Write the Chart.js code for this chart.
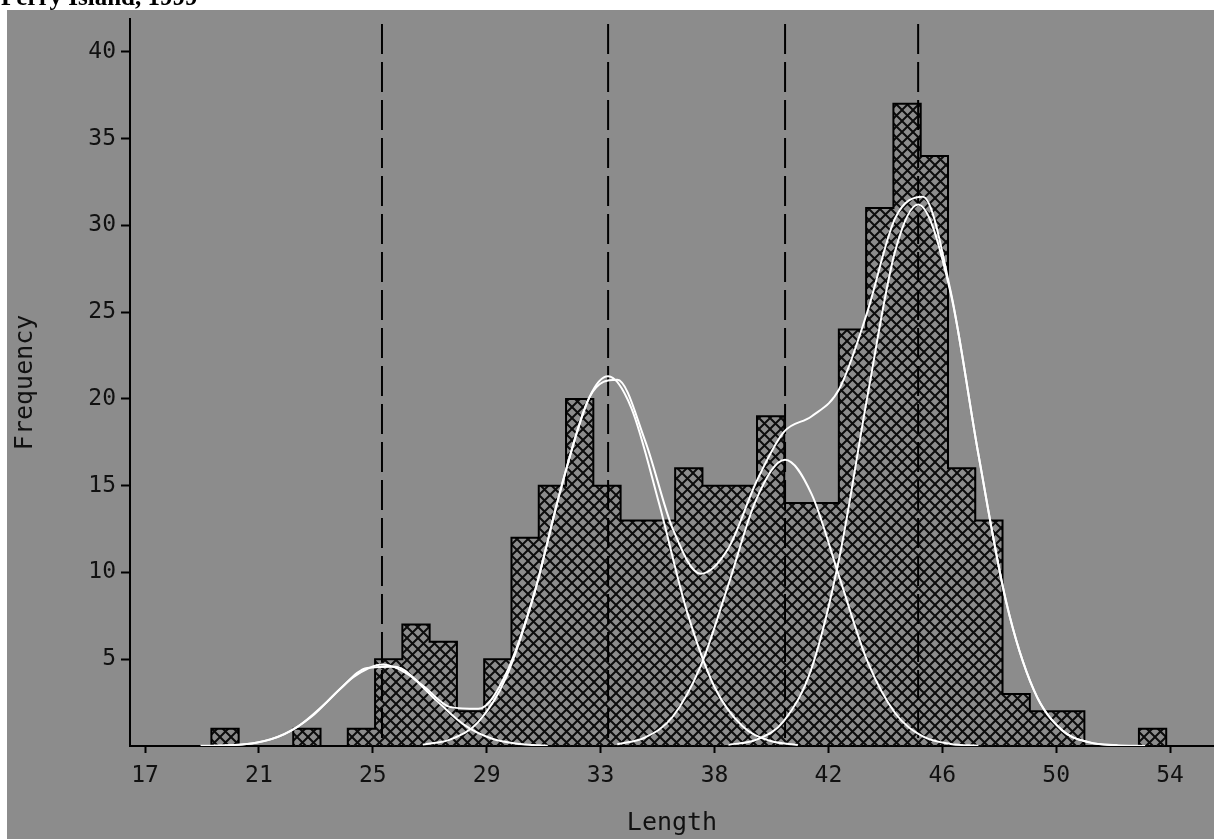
<!DOCTYPE html>
<html>
<head>
<meta charset="utf-8">
<script src="https://cdn.jsdelivr.net/npm/chart.js@4.4.1/dist/chart.umd.min.js"></script>
<style>
  html, body { margin: 0; padding: 0; background: #fff; overflow: hidden; }
  canvas { display: block; }
</style>
</head>
<body>
<canvas id="lf" width="1214" height="839"></canvas>
<script>
// Length-frequency histogram, Ferry Island 1999, with fitted normal components.

const titleText = 'Ferry Island, 1999';

// Length classes: lower bound of the first class and class width
const classStart = 19.39;
const classWidth = 0.982;
// Frequency in each successive length class
const frequency = [1, 0, 0, 1, 0, 1, 5, 7, 6, 2, 5, 12, 15, 20, 15, 13, 13, 16, 15, 15,
                   19, 14, 14, 24, 31, 37, 34, 16, 13, 3, 2, 2, 0, 0, 1];

// Axis ticks
const xTickValues = [17, 21.1, 25.2, 29.3, 33.4, 37.5, 41.6, 45.7, 49.8, 53.9];
const xTickLabels = ['17', '21', '25', '29', '33', '38', '42', '46', '50', '54'];
const yTickValues = [5, 10, 15, 20, 25, 30, 35, 40];

// Mean lengths of the fitted cohorts
const cohortMeans = [25.53, 33.67, 40.04, 44.83];

// Fitted cohort curves
const cohort1X = [19.5, 20.5, 21.5, 22.5, 23.5, 24.5, 25.55, 26.5, 27.5, 28.5, 29.5, 30.5, 31.5];
const cohort1Y = [0.02, 0.09, 0.37, 1.12, 2.46, 3.97, 4.7, 4.1, 2.6, 1.2, 0.42, 0.11, 0.02];

const cohort2X = [27, 28, 29, 30, 31, 32, 33, 33.67, 34.5, 35.5, 36.5, 37.5, 38.5, 39.5, 40.5];
const cohort2Y = [0.08, 0.38, 1.39, 3.96, 8.7, 15.0, 20.1, 21.3, 19.5, 14.0, 7.8, 3.4, 1.15, 0.3, 0.06];

const cohort3X = [34, 35, 36, 37, 38, 39, 40.04, 41, 42, 43, 44, 45, 46, 47];
const cohort3Y = [0.1, 0.49, 1.7, 4.6, 9.3, 14.2, 16.5, 14.5, 9.7, 4.9, 1.9, 0.55, 0.12, 0.02];

const cohort4X = [38, 39, 40, 41, 42, 43, 44, 44.83, 46, 47, 48, 49, 50, 51, 52];
const cohort4Y = [0.07, 0.36, 1.45, 4.5, 10.9, 20.1, 28.5, 31.2, 26.1, 16.8, 8.3, 3.2, 0.92, 0.21, 0.04];

// Combined fit of all cohorts
const totalX = [19, 20, 21, 22, 23, 24, 25, 26, 27, 28, 29, 30, 31, 32, 33, 34, 35, 36, 37,
                38, 39, 40, 41, 42, 43, 44, 45, 46, 47, 48, 49, 50, 51, 52, 53];
const totalY = [0.01, 0.04, 0.19, 0.67, 1.7, 3.25, 4.5, 4.57, 3.48, 2.24, 2.14, 4.18, 8.74, 15.0,
                20.1, 21.1, 17.6, 12.5, 9.93, 11.4, 15.2, 18.1, 19.0, 20.6, 25.0, 30.4, 31.65,
                26.2, 16.8, 8.3, 3.2, 0.92, 0.21, 0.04, 0.0];

// ---------------------------------------------------------------------------

const toPoints = (xs, ys) => xs.map((x, i) => ({ x: x, y: ys[i] }));

// Histogram bars at class mid-points
const barPoints = frequency.map((f, i) => ({ x: classStart + (i + 0.5) * classWidth, y: f }));

// Stepped outline around the histogram: each class value holds up to the next class edge
const outlinePoints = [{ x: classStart, y: 0 }];
frequency.forEach((f, i) => outlinePoints.push({ x: classStart + (i + 1) * classWidth, y: f }));
outlinePoints.push({ x: classStart + frequency.length * classWidth, y: 0 });

// Cross-hatch fill
function crossHatch() {
  const s = 11;
  const tile = document.createElement('canvas');
  tile.width = s; tile.height = s;
  const g = tile.getContext('2d');
  g.strokeStyle = '#0d0d0d';
  g.lineWidth = 2;
  for (let k = -1; k <= 1; k++) {
    g.beginPath();
    g.moveTo(k * s - 1, -1); g.lineTo(k * s + s + 1, s + 1);
    g.moveTo(k * s - 1, s + 1); g.lineTo(k * s + s + 1, -1);
    g.stroke();
  }
  return g.createPattern(tile, 'repeat');
}

// Grey backdrop and the heading strip
const backdrop = {
  id: 'backdrop',
  beforeDraw(chart) {
    const c = chart.ctx, w = chart.width, h = chart.height;
    c.save();
    c.fillStyle = '#ffffff';
    c.fillRect(0, 0, w, h);
    c.fillStyle = '#8c8c8c';
    c.fillRect(7, 10, w - 7, h - 10);
    c.fillStyle = '#000';
    c.font = 'bold 25px "Liberation Serif", serif';
    c.textBaseline = 'alphabetic';
    c.textAlign = 'left';
    c.fillText(titleText, 1, 5);
    c.restore();
  }
};

const curveStyle = {
  type: 'line',
  borderColor: '#ffffff',
  borderWidth: 2,
  pointRadius: 0,
  fill: false,
  cubicInterpolationMode: 'monotone',
  order: 0
};

// Dashed markers at the cohort means, drawn from the top down
const meanLines = cohortMeans.map(m => ({
  type: 'line',
  data: [{ x: m, y: 41.6 }, { x: m, y: 0 }],
  borderColor: '#000000',
  borderWidth: 2,
  borderDash: [30, 8],
  pointRadius: 0,
  fill: false,
  order: 1
}));

const tickFont = { family: '"DejaVu Sans Mono", monospace', size: 23 };
const titleFont = { family: '"DejaVu Sans Mono", monospace', size: 25, lineHeight: 1.2 };

new Chart(document.getElementById('lf'), {
  type: 'bar',
  data: {
    datasets: [
      Object.assign({ data: toPoints(totalX, totalY) }, curveStyle),
      Object.assign({ data: toPoints(cohort1X, cohort1Y) }, curveStyle),
      Object.assign({ data: toPoints(cohort2X, cohort2Y) }, curveStyle),
      Object.assign({ data: toPoints(cohort3X, cohort3Y) }, curveStyle),
      Object.assign({ data: toPoints(cohort4X, cohort4Y) }, curveStyle),
      ...meanLines,
      {
        type: 'line',
        data: outlinePoints,
        stepped: 'after',
        borderColor: '#000000',
        borderWidth: 2,
        pointRadius: 0,
        fill: false,
        order: 2
      },
      {
        type: 'bar',
        data: barPoints,
        backgroundColor: crossHatch(),
        borderWidth: 0,
        barPercentage: 1.0,
        categoryPercentage: 1.0,
        order: 3
      }
    ]
  },
  options: {
    responsive: false,
    devicePixelRatio: 1,
    animation: false,
    events: [],
    layout: { padding: { top: 11, right: 0, bottom: 0, left: 0 } },
    plugins: {
      legend: { display: false },
      tooltip: { enabled: false },
      title: { display: false }
    },
    scales: {
      x: {
        type: 'linear',
        min: 16.46,
        max: 55.48,
        offset: false,
        z: 1,
        afterBuildTicks: axis => { axis.ticks = xTickValues.map(v => ({ value: v })); },
        afterFit: axis => { axis.height = 93; },
        ticks: {
          color: '#111',
          font: tickFont,
          padding: 9,
          maxRotation: 0,
          autoSkip: false,
          callback: (v, i) => xTickLabels[i]
        },
        grid: { offset: false, drawOnChartArea: false, drawTicks: true, tickLength: 7, tickWidth: 2, tickColor: '#000' },
        border: { display: true, color: '#000', width: 2 },
        title: { display: true, text: 'Length', color: '#111', font: titleFont, padding: { top: 0, bottom: 1 } }
      },
      y: {
        type: 'linear',
        min: 0,
        max: 41.9,
        z: 1,
        afterBuildTicks: axis => { axis.ticks = yTickValues.map(v => ({ value: v })); },
        afterFit: axis => { axis.width = 130; },
        ticks: { color: '#111', font: tickFont, padding: 5, autoSkip: false },
        grid: { drawOnChartArea: false, drawTicks: true, tickLength: 9, tickWidth: 2, tickColor: '#000' },
        border: { display: true, color: '#000', width: 2 },
        title: { display: true, text: 'Frequency', color: '#111', font: titleFont, padding: { top: 10, bottom: 0 } }
      }
    }
  },
  plugins: [backdrop]
});
</script>
</body>
</html>
